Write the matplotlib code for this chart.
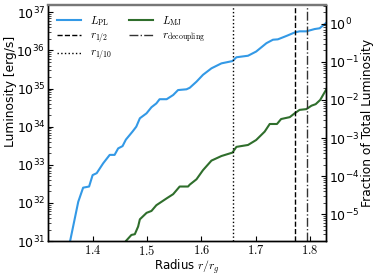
import numpy as np
import matplotlib.pyplot as plt
from matplotlib.ticker import FuncFormatter, FixedLocator, NullFormatter, LogFormatterMathtext

plt.rcParams["mathtext.fontset"] = "cm"
plt.rcParams["font.family"] = "DejaVu Sans"

# radius grid and log10 luminosity
r_pl = [1.340, 1.358, 1.373, 1.382, 1.393, 1.3995, 1.407, 1.419, 1.431, 1.440, 1.4466,
        1.4547, 1.4608, 1.473, 1.480, 1.4866, 1.4989, 1.508, 1.517, 1.523, 1.536,
        1.548, 1.557, 1.5726, 1.5786, 1.591, 1.603, 1.6186, 1.637, 1.6573, 1.6646,
        1.686, 1.701, 1.720, 1.732, 1.741, 1.757, 1.772, 1.781, 1.7935, 1.8088,
        1.818, 1.830]
logL_pl = [30.6, 31.0, 32.03, 32.4, 32.43, 32.73, 32.78, 33.04, 33.26, 33.26, 33.43,
           33.49, 33.66, 33.87, 34.0, 34.22, 34.35, 34.51, 34.61, 34.72, 34.72,
           34.83, 34.96, 34.98, 35.02, 35.18, 35.36, 35.53, 35.66, 35.72, 35.82,
           35.86, 35.97, 36.19, 36.28, 36.29, 36.38, 36.47, 36.50, 36.50, 36.56,
           36.58, 36.72]

r_mj = [1.450, 1.4608, 1.471, 1.4773, 1.4834, 1.4866, 1.499, 1.508, 1.517, 1.5265,
        1.536, 1.548, 1.560, 1.5755, 1.5786, 1.591, 1.603, 1.6186, 1.637, 1.6573,
        1.6646, 1.686, 1.701, 1.7167, 1.726, 1.7394, 1.747, 1.763, 1.772, 1.781,
        1.7935, 1.803, 1.8107, 1.819, 1.830]
logL_mj = [30.6, 31.0, 31.16, 31.18, 31.38, 31.57, 31.74, 31.79, 31.94, 32.03,
           32.12, 32.23, 32.43, 32.43, 32.48, 32.62, 32.86, 33.11, 33.23, 33.32,
           33.47, 33.52, 33.65, 33.87, 34.07, 34.07, 34.20, 34.25, 34.35, 34.44,
           34.46, 34.55, 34.59, 34.70, 34.97]

r_tenth = 1.658
r_half = 1.772
r_dec = 1.795
L_total = 10 ** 36.70

left_decades = [31, 32, 33, 34, 35, 36, 37]
right_decades = [-5, -4, -3, -2, -1, 0]

L_pl = 10 ** np.array(logL_pl)
L_mj = 10 ** np.array(logL_mj)

fig = plt.figure(figsize=(3.74, 2.79), dpi=100)
ax = fig.add_axes([0.128, 0.136, 0.744, 0.846])

h_pl, = ax.plot(r_pl, L_pl, color="#3399e6", lw=1.5, label=r"$L_{\rm PL}$")
h_mj, = ax.plot(r_mj, L_mj, color="#2f6e2c", lw=1.5, label=r"$L_{\rm MJ}$")
h_half = ax.axvline(r_half, color="black", ls="--", lw=1.0, label=r"$r_{1/2}$")
h_dec = ax.axvline(r_dec, color="#333333", ls="-.", lw=1.0, label=r"$r_{\rm decoupling}$")
h_tenth = ax.axvline(r_tenth, color="black", ls=":", lw=1.0, label=r"$r_{1/10}$")


def minor_ticks(decades, lo, hi):
    vals = []
    for d in range(decades[0] - 1, decades[-1] + 1):
        for m in range(2, 10):
            v = m * 10.0 ** d
            if lo < v < hi:
                vals.append(v)
    return vals


ax.set_yscale("log")
ax.set_xlim(1.317, 1.83)
ylo, yhi = 1e31, 10 ** 37.19
ax.set_ylim(ylo, yhi)
ax.set_xticks([1.4, 1.5, 1.6, 1.7, 1.8])
ax.xaxis.set_major_formatter(FuncFormatter(lambda v, p: r"$%.1f$" % v))
ax.yaxis.set_major_locator(FixedLocator([10.0 ** d for d in left_decades]))
ax.yaxis.set_major_formatter(LogFormatterMathtext())
ax.yaxis.set_minor_locator(FixedLocator(minor_ticks(left_decades, ylo, yhi)))
ax.yaxis.set_minor_formatter(NullFormatter())
ax.set_xlabel(r"Radius $r/r_g$", fontsize=8.5, labelpad=0)
ax.set_ylabel("Luminosity [erg/s]", fontsize=8.8)
ax.yaxis.set_label_coords(-0.112, 0.636)

ax2 = ax.twinx()
ax2.set_yscale("log")
rlo, rhi = ylo / L_total, yhi / L_total
ax2.set_ylim(rlo, rhi)
ax2.yaxis.set_major_locator(FixedLocator([10.0 ** d for d in right_decades]))
ax2.yaxis.set_major_formatter(LogFormatterMathtext())
ax2.yaxis.set_minor_locator(FixedLocator(minor_ticks(right_decades, rlo, rhi)))
ax2.yaxis.set_minor_formatter(NullFormatter())
ax2.set_ylabel("Fraction of Total Luminosity", fontsize=8.8, labelpad=1)

for a in (ax, ax2):
    a.tick_params(which="both", direction="in", labelsize=9, pad=2)
    a.tick_params(which="major", length=3.5, width=0.8)
    a.tick_params(which="minor", length=2, width=0.5)
    for s in a.spines.values():
        s.set_linewidth(1.0)
    a.spines["top"].set_color("#777777")
    a.spines["top"].set_linewidth(1.6)
ax.tick_params(top=False)
ax2.tick_params(left=False)

ax.legend(handles=[h_pl, h_half, h_tenth, h_mj, h_dec], ncol=2, frameon=False,
          fontsize=8, loc="upper left", handlelength=2.2, columnspacing=1.5,
          labelspacing=0.3, borderaxespad=0.4)

fig.savefig("out.png", dpi=100)
